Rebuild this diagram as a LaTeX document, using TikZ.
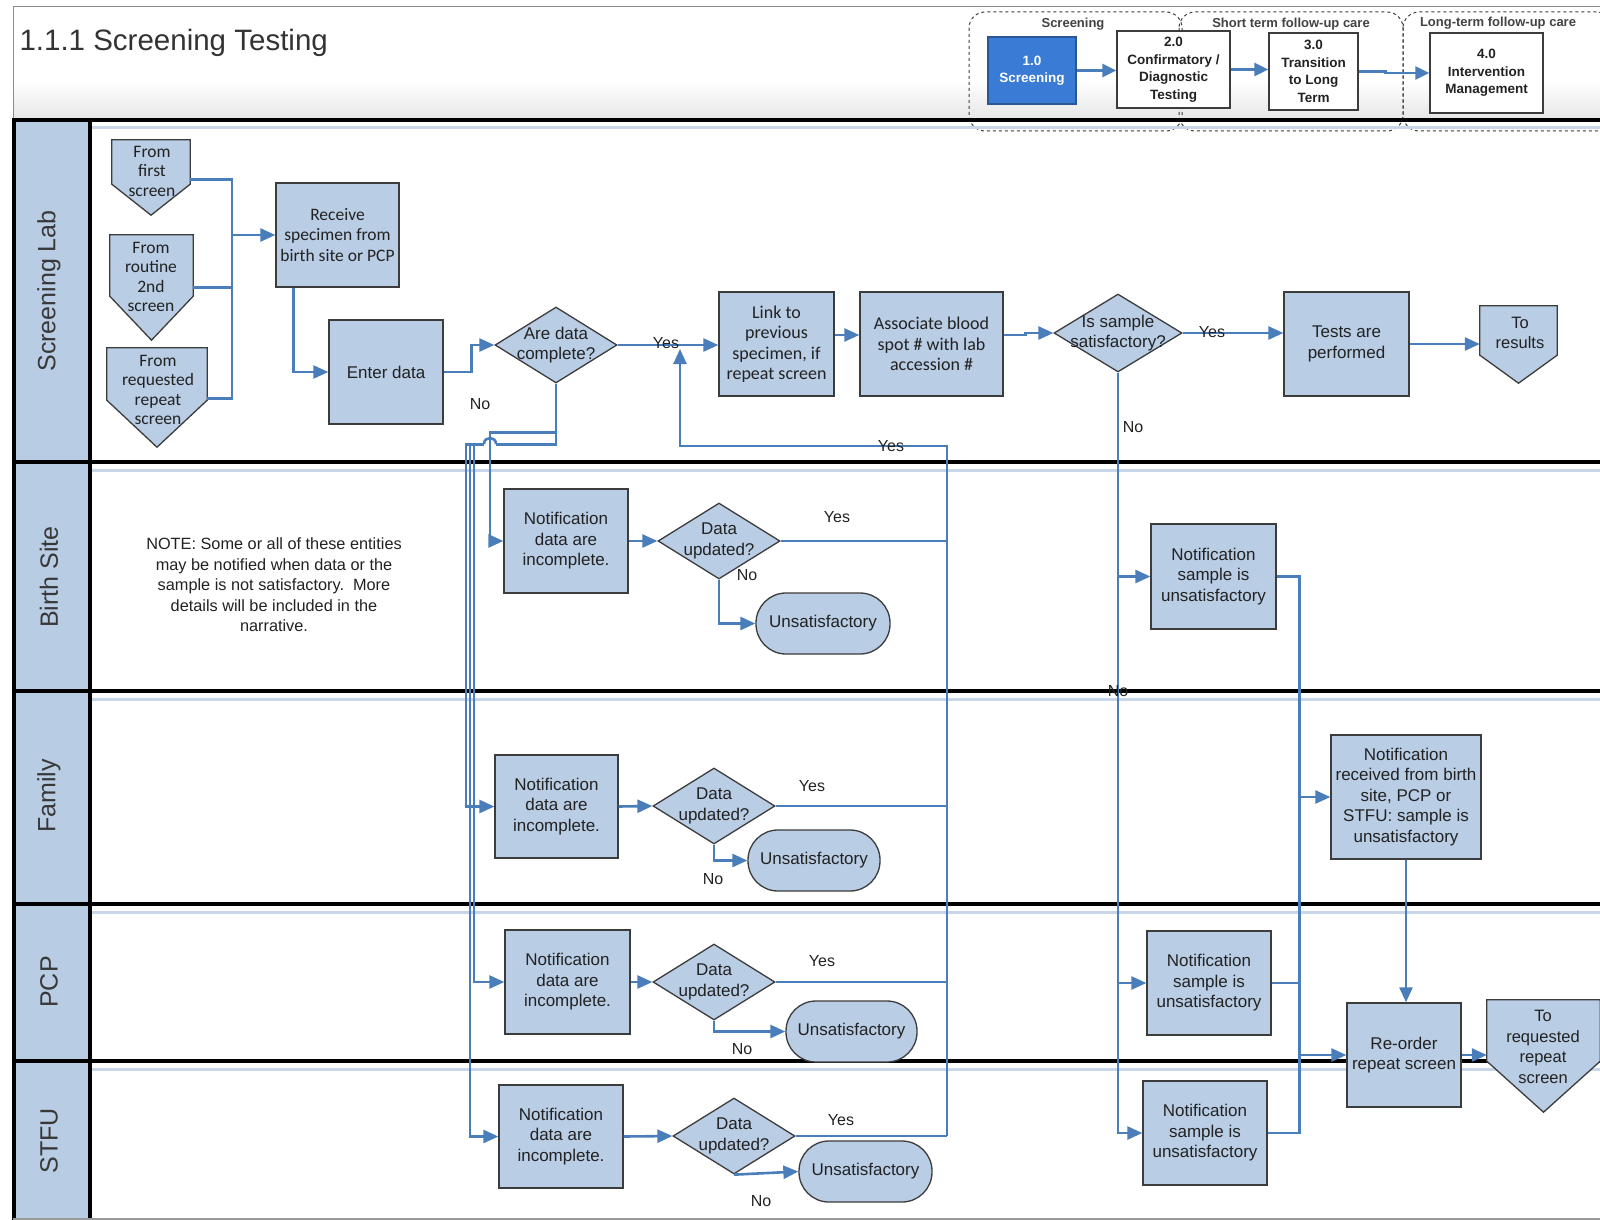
\documentclass[tikz,border=0pt]{standalone}
\usepackage{fontspec}
\setmainfont{Liberation Sans}
\newfontfamily\calib{Carlito}
\usetikzlibrary{arrows.meta,calc,shapes.geometric}
\definecolor{boxfill}{HTML}{B9CDE5}
\definecolor{lanefill}{HTML}{B8CCE4}
\definecolor{linkblue}{HTML}{4A7EBB}
\definecolor{boxline}{HTML}{3C3C3C}
\definecolor{txt}{HTML}{222222}
\definecolor{paleline}{HTML}{C8D6EA}
\definecolor{scrblue}{HTML}{3A7BD5}
\begin{document}
\begin{tikzpicture}[x=1pt,y=-1pt,
  conn/.style={draw=linkblue,line width=2.6pt},
  arr/.style={conn,-{Triangle[length=15pt,width=13pt]}},
  box/.style={draw=boxline,fill=boxfill,line width=1.3pt,align=center,inner sep=2pt,text=txt,font=\fontsize{17}{20.5}\selectfont},
  cbox/.style={box,font=\calib\fontsize{17.5}{20.5}\selectfont},
  dia/.style={diamond,draw=boxline,fill=boxfill,line width=1.3pt,inner sep=0pt},
  dtext/.style={align=center,text=txt,font=\fontsize{17}{20.5}\selectfont,inner sep=0pt},
  term/.style={box,rounded corners=30pt,minimum height=61pt},
  ghost/.style={inner sep=0pt},
  shapeline/.style={draw=boxline,fill=boxfill,line width=1.3pt},
  offtext/.style={align=center,text=txt,font=\calib\fontsize{17.5}{19.5}\selectfont,inner sep=0pt},
  offtexta/.style={align=center,text=txt,font=\fontsize{16.5}{20.5}\selectfont,inner sep=0pt},
  lbl/.style={text=txt,font=\fontsize{16}{18}\selectfont,inner sep=0pt},
  lanelabel/.style={rotate=90,text=txt!90,font=\fontsize{25}{28}\selectfont},
  hbox/.style={draw=boxline,fill=white,line width=1.2pt,align=center,text=txt,font=\bfseries\fontsize{13.5}{17.5}\selectfont,inner sep=1pt},
  harr/.style={draw=linkblue,line width=2.6pt,-{Triangle[length=14pt,width=13pt]}},
  grp/.style={draw=boxline,dashed,line width=1pt,rounded corners=16pt},
  glabel/.style={text=txt!85,font=\bfseries\fontsize{13}{15}\selectfont,inner sep=1pt},
]
\useasboundingbox (0,0) rectangle (1600,1220);
\fill[white] (0,0) rectangle (1600,1220);

% ---------- header ----------
\shade[top color=white,bottom color=black!10] (13,80) rectangle (1600,120);
\draw[black!45,line width=1pt] (13,120) -- (13,7) -- (1600,7);
\node[anchor=west,text=black!80,font=\fontsize{29.5}{33}\selectfont] (title) at (16,43) {1.1.1 Screening Testing};

% process map
\draw[grp] (969,12) rectangle (1182,131);
\draw[grp] (1179,12) rectangle (1403,131);
\draw[grp] (1403,12) rectangle (1612,131);
\node[glabel] (g1) at (1073,24) {Screening};
\node[glabel] (g2) at (1291,24) {Short term follow-up care};
\node[glabel] (g3) at (1498,23) {Long-term follow-up care};
\node[hbox,fill=scrblue,draw=scrblue!70!black,text=white,minimum width=88pt,minimum height=67pt] (p1) at (1032,70.5) {1.0\\Screening};
\node[hbox,minimum width=113pt,minimum height=77pt] (p2) at (1173.5,69.5) {2.0\\Confirmatory /\\Diagnostic\\Testing};
\node[hbox,minimum width=89pt,minimum height=77pt] (p3) at (1313.5,71.5) {3.0\\Transition\\to Long\\Term};
\node[hbox,minimum width=113pt,minimum height=80pt] (p4) at (1486.5,73) {4.0\\Intervention\\Management};
\draw[harr] (p1.east) -- (p1.east -| p2.west);
\draw[harr] (p2.east) -- (p2.east -| p3.west);
\draw[harr] (p3.east) -- ++(27,0) |- (p4.west);

% ---------- swimlanes ----------
\fill[lanefill] (13,120) rectangle (90,1220);
\foreach \yy in {128,470,699,912,1069} \draw[paleline,line width=3pt] (92,\yy) -- (1600,\yy);
\foreach \yy in {120,462,691,904,1061} \draw[black,line width=4pt] (13,\yy) -- (1600,\yy);
\draw[black,line width=4pt] (14,118) -- (14,1220);
\draw[black,line width=4pt] (90,118) -- (90,1220);
\draw[black!40,line width=1.5pt] (13,1219) -- (1600,1219);
\node[lanelabel] (l1) at (49,291) {Screening Lab};
\node[lanelabel] (l2) at (49,577) {Birth Site};
\node[lanelabel] (l3) at (49,796) {Family};
\node[lanelabel] (l4) at (49,982) {PCP};
\node[lanelabel] (l5) at (49,1141) {STFU};

\node[align=center,text=txt,font=\fontsize{16.3}{20.5}\selectfont] (note) at (274,585)
  {NOTE: Some or all of these entities\\may be notified when data or the\\sample is not satisfactory.\ \ More\\details will be included in the\\narrative.};

% ---------- off-page references ----------
\node[ghost,minimum width=78pt,minimum height=44pt] (op1) at (151,162) {};
\node[ghost,minimum width=83pt,minimum height=61pt] (op2) at (151.5,265.5) {};
\node[ghost,minimum width=100pt,minimum height=52pt] (op3) at (157,374) {};
\node[ghost,minimum width=77pt,minimum height=49pt] (tores) at (1518.5,330.5) {};
\node[ghost,minimum width=113pt,minimum height=61pt] (torep) at (1543.5,1030.5) {};
\path[shapeline] (op1.north west) -- (op1.north east) -- (op1.south east) -- ($(op1.south)+(0,31)$) -- (op1.south west) -- cycle;
\path[shapeline] (op2.north west) -- (op2.north east) -- (op2.south east) -- ($(op2.south)+(0,44)$) -- (op2.south west) -- cycle;
\path[shapeline] (op3.north west) -- (op3.north east) -- (op3.south east) -- ($(op3.south)+(0,47)$) -- (op3.south west) -- cycle;
\path[shapeline] (tores.north west) -- (tores.north east) -- (tores.south east) -- ($(tores.south)+(0,28)$) -- (tores.south west) -- cycle;
\path[shapeline] (torep.north west) -- (torep.north east) -- (torep.south east) -- ($(torep.south)+(0,51)$) -- (torep.south west) -- cycle;
\node[offtext] (op1t) at (152,171) {From\\first\\screen};
\node[offtext] (op2t) at (151,277) {From\\routine\\2nd\\screen};
\node[offtext] (op3t) at (158,390) {From\\requested\\repeat\\screen};
\node[offtexta] (torest) at (1520,333) {To\\results};
\node[offtexta] (torept) at (1543,1047) {To\\requested\\repeat\\screen};

% ---------- process boxes ----------
\node[cbox,minimum width=123pt,minimum height=104pt] (recv) at (337.5,235) {Receive\\specimen from\\birth site or PCP};
\node[box,minimum width=114pt,minimum height=104pt] (enter) at (386,372) {Enter data};
\node[cbox,font=\calib\fontsize{18}{20.5}\selectfont,minimum width=115pt,minimum height=104pt] (link) at (776.5,344) {Link to\\previous\\specimen, if\\repeat screen};
\node[cbox,font=\calib\fontsize{18}{20.5}\selectfont,minimum width=143pt,minimum height=104pt] (assoc) at (931.5,344) {Associate blood\\spot \# with lab\\accession \#};
\node[box,minimum width=125pt,minimum height=104pt] (tests) at (1346.5,344) {Tests are\\performed};

\node[box,minimum width=124pt,minimum height=104pt] (nbs) at (566,541) {Notification\\data are\\incomplete.};
\node[box,minimum width=123pt,minimum height=103pt] (nfa) at (556.5,806.5) {Notification\\data are\\incomplete.};
\node[box,minimum width=125pt,minimum height=104pt] (npc) at (567.5,982) {Notification\\data are\\incomplete.};
\node[box,minimum width=124pt,minimum height=103pt] (nst) at (561,1136.5) {Notification\\data are\\incomplete.};

\node[box,minimum width=125pt,minimum height=105pt] (sbs) at (1213.5,576.5) {Notification\\sample is\\unsatisfactory};
\node[box,minimum width=124pt,minimum height=104pt] (spc) at (1209,983) {Notification\\sample is\\unsatisfactory};
\node[box,minimum width=124pt,minimum height=104pt] (sst) at (1205,1133) {Notification\\sample is\\unsatisfactory};
\node[box,minimum width=150pt,minimum height=124pt] (nrec) at (1406,797) {Notification\\received from birth\\site, PCP or\\STFU: sample is\\unsatisfactory};
\node[box,minimum width=114pt,minimum height=104pt] (reord) at (1404,1055) {Re-order\\repeat screen};

% ---------- decisions ----------
\node[dia,minimum width=122pt,minimum height=76pt] (d1) at (556,345) {};
\node[dtext] (d1t) at (d1) {Are data\\complete?};
\node[dia,minimum width=128pt,minimum height=78pt] (d2) at (1118,333) {};
\node[dtext] (d2t) at (d2) {Is sample\\satisfactory?};
\node[dia,minimum width=122pt,minimum height=76pt] (dbs) at (719,541) {};
\node[dtext] (dbst) at (dbs) {Data\\updated?};
\node[dia,minimum width=122pt,minimum height=76pt] (dfa) at (714,806) {};
\node[dtext] (dfat) at (dfa) {Data\\updated?};
\node[dia,minimum width=122pt,minimum height=76pt] (dpc) at (714,982) {};
\node[dtext] (dpct) at (dpc) {Data\\updated?};
\node[dia,minimum width=122pt,minimum height=76pt] (dst) at (734,1136) {};
\node[dtext] (dstt) at (dst) {Data\\updated?};

% ---------- terminators ----------
\node[term,minimum width=134pt] (ubs) at (823,623.5) {Unsatisfactory};
\node[term,minimum width=132pt] (ufa) at (814,860.5) {Unsatisfactory};
\node[term,minimum width=131pt] (upc) at (851.5,1031.5) {Unsatisfactory};
\node[term,minimum width=133pt] (ust) at (865.5,1171.5) {Unsatisfactory};

% ---------- connectors: screening lab ----------
\coordinate (jin) at (232,235);
\draw[conn] ([yshift=5pt]op1.south east) -| (jin);
\draw[conn] ([yshift=9pt]op2.south east) -| (jin);
\draw[conn] ([yshift=2pt]op3.south east) -| (jin);
\draw[arr] (jin) -- (recv.west);
\draw[arr] ([xshift=-44pt]recv.south) |- (enter.west);
\draw[arr] (enter.east) -- ++(28,0) |- (d1.west);
\draw[arr] (d1.east) -- (d1.east -| link.west);
\draw[arr] ([yshift=9pt]link.east) -- ([yshift=9pt]assoc.west);
\draw[arr] ([yshift=9pt]assoc.east) -- ++(22,0) |- (d2.west);
\draw[arr] (d2.east) -- (d2.east -| tests.west);
\draw[arr] (tests.east) -- (tests.east -| tores.west);

% unsatisfactory sample branch
\draw[arr] (d2.south) |- (sst.west);
\draw[arr] (d2.south |- sbs.west) -- (sbs.west);
\draw[arr] (d2.south |- spc.west) -- (spc.west);
\draw[conn] (sbs.east) -- ++(23,0) coordinate (ctop) |- (sst.east);
\draw[conn] (spc.east) -- (spc.east -| ctop);
\draw[arr] (ctop |- nrec.west) -- (nrec.west);
\draw[arr] (ctop |- reord.west) -- (reord.west);
\draw[arr] (nrec.south) -- (nrec.south |- reord.north);
\draw[arr] (reord.east) -- (reord.east -| torep.west);

% incomplete data branch
\draw[arr] (d1.south) |- ++(-66,49) |- (nbs.west);
\draw[arr] (d1.south) |- ++(-90,61) |- (nfa.west);
\draw[arr] (d1.south) |- ++(-86,61) |- (nst.west);
\draw[arr] (d1.south) |- ++(-82,61) |- (npc.west);
\coordinate (hop) at (490,444);
\fill[white] ($(hop)+(-6,-2.8)$) rectangle ($(hop)+(6,2.8)$);
\draw[conn] ($(hop)+(0,-6)$) -- ($(hop)+(0,6)$);
\draw[conn] ($(hop)+(-6,0)$) .. controls ($(hop)+(-6,-8)$) and ($(hop)+(6,-8)$) .. ($(hop)+(6,0)$);

% data updated decisions
\coordinate (yesx) at (947,446);
\coordinate (ytip) at (680,349);
\draw[arr] (nbs.east) -- (dbs.west);
\draw[arr] (nfa.east) -- (dfa.west);
\draw[arr] (npc.east) -- (dpc.west);
\draw[arr] (nst.east) -- (dst.west);
\draw[conn] (dbs.east) -- (dbs.east -| yesx);
\draw[conn] (dfa.east) -- (dfa.east -| yesx);
\draw[conn] (dpc.east) -- (dpc.east -| yesx);
\draw[conn] (dst.east) -- (dst.east -| yesx);
\draw[arr] (dst.east -| yesx) -- (yesx) -- (yesx -| ytip) -- (ytip);
\draw[arr] (dbs.south) |- (ubs.west);
\draw[arr] (dfa.south) |- (ufa.west);
\draw[arr] (dpc.south) |- (upc.west);
\draw[arr] (dst.south) -- (ust.west);

% ---------- connector labels ----------
\node[lbl] (y1) at (666,343) {Yes};
\node[lbl] (y2) at (1212,332) {Yes};
\node[lbl] (y3) at (891,446) {Yes};
\node[lbl] (y4) at (837,517) {Yes};
\node[lbl] (y5) at (812,786) {Yes};
\node[lbl] (y6) at (822,961) {Yes};
\node[lbl] (y7) at (841,1120) {Yes};
\node[lbl] (n1) at (480,404) {No};
\node[lbl] (n2) at (1133,427) {No};
\node[lbl] (n3) at (1118,691) {No};
\node[lbl] (n4) at (747,575) {No};
\node[lbl] (n5) at (713,879) {No};
\node[lbl] (n6) at (742,1049) {No};
\node[lbl] (n7) at (761,1201) {No};
\end{tikzpicture}
\end{document}
